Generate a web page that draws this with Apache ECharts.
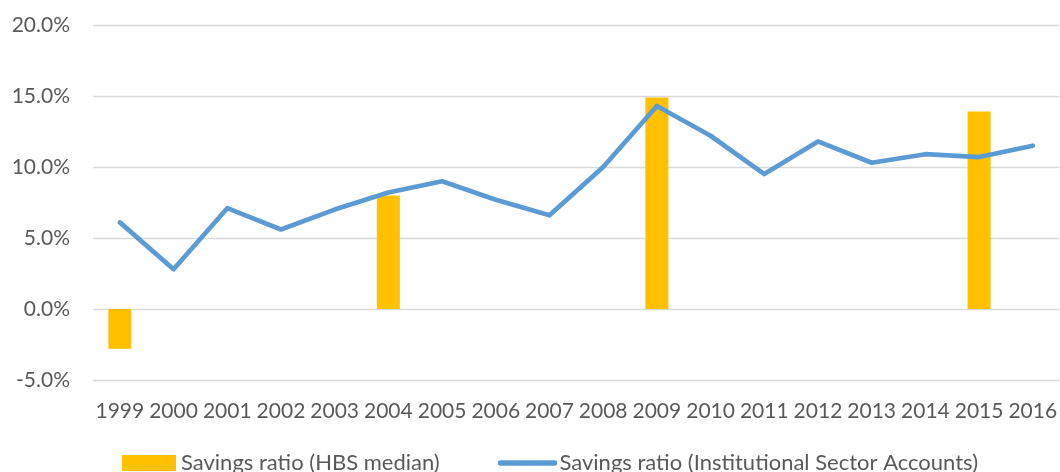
<!DOCTYPE html>
<html>
<head>
<meta charset="utf-8">
<style>
  html, body { margin: 0; padding: 0; background: #fff; }
  #chart { width: 1060px; height: 472px; }
</style>
<script src="https://cdn.jsdelivr.net/npm/echarts@6/dist/echarts.min.js"></script>
</head>
<body>
<div id="chart"></div>
<script>
// years on the x axis
const years = ['1999', '2000', '2001', '2002', '2003', '2004', '2005', '2006', '2007',
  '2008', '2009', '2010', '2011', '2012', '2013', '2014', '2015', '2016'];

// HBS median, only surveyed years
const hbsMedian = [-2.8, null, null, null, null, 8.0, null, null, null,
  null, 14.9, null, null, null, null, null, 13.9, null];

// Institutional Sector Accounts
const sectorAccounts = [6.1, 2.8, 7.1, 5.6, 7.0, 8.2, 9.0, 7.7, 6.6,
  10.0, 14.3, 12.2, 9.5, 11.8, 10.3, 10.9, 10.7, 11.5];

// y ticks
const yTicks = [-5, 0, 5, 10, 15, 20];

const textColor = '#595959';
const fontFamily = 'Lato, "Open Sans", sans-serif';

const chart = echarts.init(document.getElementById('chart'));

chart.setOption({
  animation: false,
  textStyle: { fontFamily: fontFamily },
  grid: {
    left: 93,
    top: 25,
    width: 972,
    height: 355,
    containLabel: false,
  },
  legend: {
    left: 117,
    top: 447,
    itemWidth: 54,
    itemHeight: 16,
    itemGap: 58,
    textStyle: { color: textColor, fontSize: 22, fontFamily: fontFamily },
    data: [
      { name: 'Savings ratio (HBS median)', icon: 'rect' },
      // hide the circle that line series put in the middle of the icon
      {
        name: 'Savings ratio (Institutional Sector Accounts)',
        itemStyle: { opacity: 0 },
        lineStyle: { width: 5.5, cap: 'round' },
      },
    ],
  },
  xAxis: {
    type: 'category',
    data: years,
    axisLine: { show: false },
    axisTick: { show: false },
    axisLabel: {
      color: textColor,
      fontSize: 21,
      margin: 21,
      interval: 0,
    },
  },
  yAxis: {
    type: 'value',
    min: yTicks[0],
    max: yTicks[yTicks.length - 1],
    interval: 5,
    axisLine: { show: false },
    axisTick: { show: false },
    splitLine: { lineStyle: { color: '#D9D9D9', width: 1.3 } },
    axisLabel: {
      color: textColor,
      fontSize: 21,
      margin: 23,
      formatter: (v) => v.toFixed(1) + '%',
    },
  },
  series: [
    {
      name: 'Savings ratio (HBS median)',
      type: 'bar',
      data: hbsMedian,
      barWidth: 23,
      itemStyle: { color: '#FFC000' },
      z: 1,
    },
    {
      name: 'Savings ratio (Institutional Sector Accounts)',
      type: 'line',
      data: sectorAccounts,
      symbol: 'none',
      lineStyle: { color: '#5B9BD5', width: 4.7, cap: 'round', join: 'round' },
      itemStyle: { color: '#5B9BD5' },
      z: 3,
    },
  ],
});
</script>
</body>
</html>
